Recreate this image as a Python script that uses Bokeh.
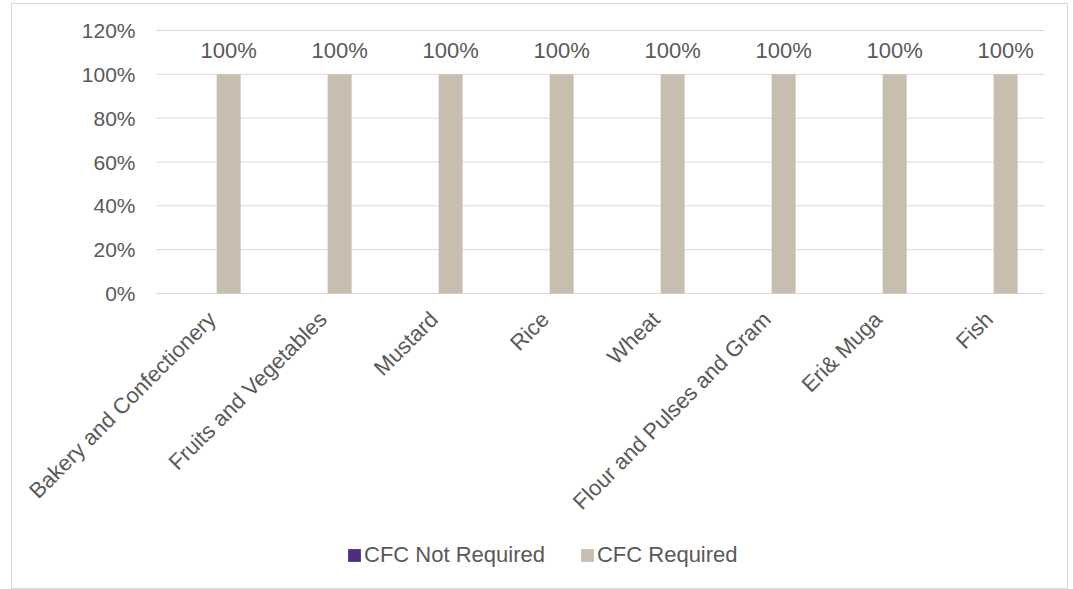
from bokeh.plotting import figure
from bokeh.models import ColumnDataSource, Legend, LegendItem, Range1d
from bokeh.core.properties import value
from bokeh.transform import dodge
from bokeh.embed import file_html
from bokeh.resources import INLINE
import math

categories = ["Bakery and Confectionery", "Fruits and Vegetables", "Mustard", "Rice",
              "Wheat", "Flour and Pulses and Gram", "Eri& Muga", "Fish"]
not_required = [0, 0, 0, 0, 0, 0, 0, 0]
required = [1.0, 1.0, 1.0, 1.0, 1.0, 1.0, 1.0, 1.0]
y_ticks = [0, 0.2, 0.4, 0.6, 0.8, 1.0, 1.2]
series_names = ["CFC Not Required", "CFC Required"]
series_colors = ["#4F2D84", "#C8BEB0"]

n = len(categories)
src = ColumnDataSource(dict(
    cat=categories,
    xi=[i + 0.5 for i in range(n)],
    zero=[0] * n,
    nr=not_required,
    r=required,
    rlab=[f"{v*100:.0f}%" for v in required],
))
tick_src = ColumnDataSource(dict(
    y=y_ticks,
    x0=[0] * len(y_ticks),
    x1=[n] * len(y_ticks),
    lab=[f"{t*100:.0f}%" for t in y_ticks],
))

FONT = "Liberation Sans"
GRAY = "#595959"

# layout (pixels)
W, H = 1055, 584
LEFT, RIGHT = 144, 23       # space left / right of the category band
TOP, BAND_H = 26, 263       # top gap, height of the 0..120% band
cat_px = (W - LEFT - RIGHT) / n
y_px = BAND_H / 1.2

x_range = Range1d(-LEFT / cat_px, n + RIGHT / cat_px)
y_range = Range1d(-(H - TOP - BAND_H) / y_px, 1.2 + TOP / y_px)

p = figure(x_range=x_range, y_range=y_range, frame_width=W, frame_height=H,
           output_backend="svg", toolbar_location=None,
           min_border=0, x_axis_type=None, y_axis_type=None)
p.grid.visible = False
p.outline_line_color = None

# gridlines
p.segment(x0="x0", x1="x1", y0="y", y1="y", source=tick_src,
          line_color="#D9D9D9", line_width=1)

# y tick labels
p.text(x="x0", y="y", text="lab", source=tick_src, x_offset=-21,
       text_align="right", text_baseline="middle",
       text_font=value(FONT), text_font_size="21px", text_color=GRAY)

# bars
b1 = p.vbar(x=dodge("xi", -0.15), top="nr", width=0.216, source=src,
            fill_color=series_colors[0], line_width=0)
b2 = p.vbar(x=dodge("xi", 0.15), top="r", width=0.216, source=src,
            fill_color=series_colors[1], line_width=0)

# data labels
p.text(x=dodge("xi", 0.15), y="r", text="rlab", source=src,
       text_align="center", text_baseline="middle", y_offset=-24,
       text_font=value(FONT), text_font_size="22px", text_color=GRAY)

# category labels (rotated 45 degrees)
p.text(x="xi", y="zero", text="cat", source=src, angle=math.pi / 4,
       text_align="right", text_baseline="middle", y_offset=22,
       text_font=value(FONT), text_font_size="22px", text_color=GRAY)

legend = Legend(items=[LegendItem(label=series_names[0], renderers=[b1]),
                       LegendItem(label=series_names[1], renderers=[b2])],
                orientation="horizontal", location=(334, 20),
                label_text_font=FONT, label_text_font_size="22px", label_text_color=GRAY,
                border_line_color=None, background_fill_alpha=0,
                glyph_width=16, glyph_height=16,
                spacing=34, label_standoff=2, margin=0, padding=0)
p.add_layout(legend, "center")

p.styles = {"border": "1px solid #D9D9D9", "margin-left": "11px", "margin-top": "3px"}

open("out.html", "w").write(file_html(p, INLINE))
